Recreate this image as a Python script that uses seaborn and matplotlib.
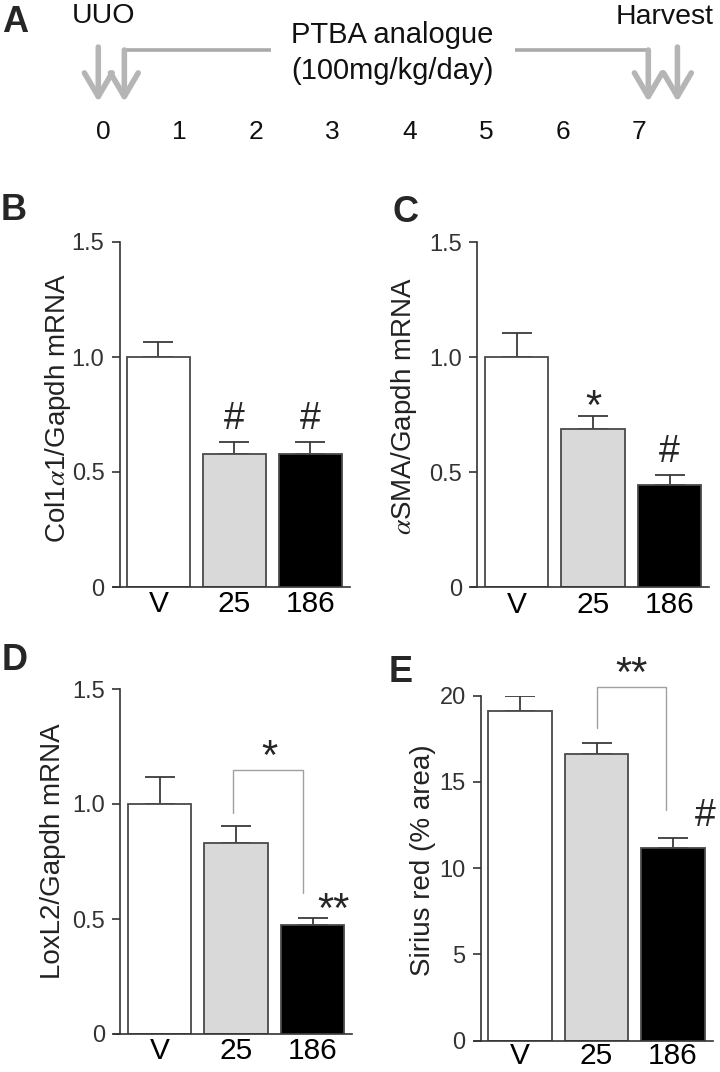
import numpy as np
import pandas as pd
import seaborn as sns
import matplotlib.pyplot as plt

sns.set_style("ticks")
plt.rcParams['font.family'] = ['Liberation Sans', 'DejaVu Sans']
plt.rcParams['mathtext.fontset'] = 'stix'

# groups / colours
groups = ["V", "25", "186"]
bar_colors = ["white", "#d9d9d9", "black"]

# values (mean, upper SEM)
col1a1_mean = [1.0, 0.577, 0.577]
col1a1_sem = [0.066, 0.052, 0.053]
asma_mean = [1.0, 0.69, 0.445]
asma_sem = [0.107, 0.055, 0.042]
loxl2_mean = [1.0, 0.829, 0.472]
loxl2_sem = [0.119, 0.075, 0.031]
sirius_mean = [19.1, 16.6, 11.18]
sirius_sem = [0.9, 0.67, 0.58]

# timeline (panel A)
days = [0, 1, 2, 3, 4, 5, 6, 7]
uuo_days = [-0.06, 0.28]
harvest_days = [7.12, 7.5]
dosing_span = [0.28, 7.12]

W, H = 720, 1072
fig = plt.figure(figsize=(W / 100, H / 100), dpi=100)


def rect(left, right, top, bottom):
    return [left / W, 1 - bottom / H, (right - left) / W, (bottom - top) / H]


# ---------------- panel A ----------------
ax_a = fig.add_axes([0, 1 - 150 / H, 1, 150 / H])
ax_a.set_xlim(-1.343, 8.056)
ax_a.set_ylim(150, 0)
ax_a.axis('off')
arrow_col = "#b5b5b5"
for d in uuo_days + harvest_days:
    top = 50 if d in dosing_span else 47
    ax_a.annotate("", xy=(d, 102), xytext=(d, top),
                  arrowprops=dict(arrowstyle="->,head_length=0.85,head_width=0.5",
                                  color=arrow_col, lw=4, shrinkA=0, shrinkB=0,
                                  mutation_scale=20))
ax_a.plot([dosing_span[0], 2.195], [50, 50], color="#aaaaaa", lw=2.6, solid_capstyle='butt')
ax_a.plot([5.38, dosing_span[1]], [50, 50], color="#aaaaaa", lw=2.6, solid_capstyle='butt')
for d in days:
    ax_a.text(d, 132, str(d), ha='center', va='center', fontsize=19, color="#111")
ax_a.text(0.014, 16, "UUO", ha='center', va='center', fontsize=20.5, color="#111")
ax_a.text(7.338, 17, "Harvest", ha='center', va='center', fontsize=20.5, color="#111")
ax_a.text(3.775, 35, "PTBA analogue", ha='center', va='center', fontsize=21, color="#111")
ax_a.text(3.775, 71, "(100mg/kg/day)", ha='center', va='center', fontsize=21, color="#111")


# ---------------- bar panels ----------------
def bar_panel(r, means, sems, ylim, yticks, yticklabels, ylabel, label_xy, xpad=2.5):
    ax = fig.add_axes(r)
    df = pd.DataFrame({"group": groups, "value": means})
    sns.barplot(data=df, x="group", y="value", hue="group",
                palette=dict(zip(groups, bar_colors)), saturation=1,
                width=0.83, edgecolor="#4a4a4a", linewidth=1.3,
                legend=False, ax=ax)
    ax.errorbar(range(len(groups)), means, yerr=[np.zeros(len(means)), sems],
                fmt='none', ecolor='#3a3a3a', elinewidth=1.3, capsize=10.5,
                capthick=1.3, zorder=0.5)
    sns.despine(ax=ax)
    ax.set_xlim(-0.6, 2.52)
    ax.set_ylim(*ylim)
    ax.spines['left'].set_position(('data', -0.51))
    for s in ['left', 'bottom']:
        ax.spines[s].set_color('#333')
        ax.spines[s].set_linewidth(1.2)
    ax.set_yticks(yticks, labels=yticklabels)
    ax.tick_params(axis='y', length=6, width=1.2, color='#333',
                   labelcolor='#333', labelsize=17, pad=5)
    ax.tick_params(axis='x', length=0, labelsize=21.5, pad=xpad, labelcolor='black')
    ax.set_xlabel('')
    ax.set_ylabel(ylabel, fontsize=20, color='#222')
    ax.yaxis.set_label_coords(*label_xy)
    return ax


def mark(ax, s, x, y, size=None):
    # y is the ink centre of the symbol
    if '*' in s:
        size = size or 30
        off = 0.58 * size
    else:
        size = size or 27
        off = 0.35 * size
    ax.annotate(s, xy=(x, y), xytext=(0, -off), textcoords='offset points',
                ha='center', va='baseline', fontsize=size, annotation_clip=False)


def bracket(ax, x1, x2, top, y1, y2):
    ax.plot([x1, x1, x2, x2], [y1, top, top, y2], color='#a0a0a0', lw=1.0,
            clip_on=False)


mrna_ticks = [0, 0.5, 1.0, 1.5]
mrna_labels = ["0", "0.5", "1.0", "1.5"]

ax_b = bar_panel(rect(112.9, 349.9, 242, 587), col1a1_mean, col1a1_sem, (0, 1.5),
                 mrna_ticks, mrna_labels, r"Col1$\alpha$1/Gapdh mRNA", (-0.170, 0.52))
mark(ax_b, "#", 1, 0.743)
mark(ax_b, "#", 2, 0.743)

ax_c = bar_panel(rect(470.6, 709.3, 242.3, 587.3), asma_mean, asma_sem, (0, 1.5),
                 mrna_ticks, mrna_labels, r"$\alpha$SMA/Gapdh mRNA", (-0.216, 0.526))
mark(ax_c, "*", 1, 0.836)
mark(ax_c, "#", 2, 0.601)

ax_d = bar_panel(rect(113.6, 352.3, 689, 1034), loxl2_mean, loxl2_sem, (0, 1.5),
                 mrna_ticks, mrna_labels, "LoxL2/Gapdh mRNA", (-0.199, 0.53))
bracket(ax_d, 0.96, 1.876, 1.146, 0.962, 0.613)
mark(ax_d, "*", 1.44, 1.257)
mark(ax_d, "**", 2.27, 0.591)

ax_e = bar_panel(rect(474.1, 712.8, 695.7, 1040.7), sirius_mean, sirius_sem, (0, 20),
                 [0, 5, 10, 15, 20], ["0", "5", "10", "15", "20"],
                 "Sirius red (% area)", (-0.160, 0.524), xpad=1)
bracket(ax_e, 1.0, 1.91, 20.52, 18.1, 13.37)
mark(ax_e, "**", 1.46, 21.97)
mark(ax_e, "#", 2.42, 13.2)

# panel letters
for letter, x, y in [("A", 15, 22), ("B", 14, 211), ("C", 406, 213),
                     ("D", 15, 660), ("E", 401, 673)]:
    fig.text(x / W, 1 - y / H, letter, ha='center', va='center',
             fontsize=26, fontweight='bold')

fig.savefig("out.png", dpi=100)
